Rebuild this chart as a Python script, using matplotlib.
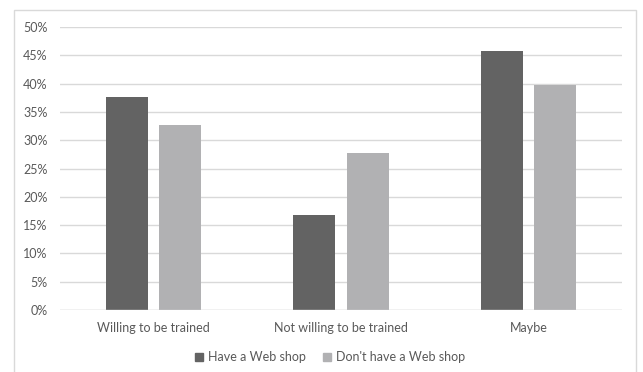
import matplotlib.pyplot as plt
import numpy as np
from matplotlib.patches import Rectangle
from matplotlib.ticker import PercentFormatter

categories = ["Willing to be trained", "Not willing to be trained", "Maybe"]
have_shop = [37.6, 16.7, 45.8]
no_shop = [32.7, 27.7, 39.7]
series_names = ["Have a Web shop", "Don't have a Web shop"]

dark = "#636363"
light = "#b1b1b3"
txt = "#595959"

plt.rcParams['font.family'] = ['Lato', 'DejaVu Sans']

fig = plt.figure(figsize=(6.43, 3.72), dpi=100)
W, H = 643, 372
ax = fig.add_axes([60/W, 1 - 310/H, 562/W, 283/H])

# chart border (bottom runs off the image)
fig.patches.append(Rectangle((14/W, -0.05), 622/W, 1.05 - 10/H, transform=fig.transFigure,
                             fill=False, edgecolor="#d9d9d9", linewidth=1))

x = np.arange(len(categories))
w = 0.224
off = 0.143
ax.bar(x - off, have_shop, w, color=dark, zorder=3)
ax.bar(x + off, no_shop, w, color=light, zorder=3)

ax.set_xlim(-0.5, 2.5)
ax.set_ylim(0, 50)
ax.set_yticks(np.arange(0, 51, 5))
ax.yaxis.set_major_formatter(PercentFormatter(decimals=0))
ax.set_xticks(x)
ax.set_xticklabels(categories)
ax.grid(axis='y', color="#d9d9d9", linewidth=1, zorder=0)
for s in ax.spines.values():
    s.set_visible(False)
ax.axhline(0, color="#d9d9d9", linewidth=1, zorder=4)
ax.tick_params(length=0, labelsize=9, colors=txt)
ax.tick_params(axis='y', pad=9)
ax.tick_params(axis='x', pad=9)

handles = [Rectangle((0, 0), 1, 1, color=dark), Rectangle((0, 0), 1, 1, color=light)]
fig.legend(handles, series_names, loc='center', bbox_to_anchor=(330/W, 1 - 357/H), ncol=2,
           frameon=False, fontsize=9, labelcolor=txt, handlelength=0.6, handleheight=0.6,
           handletextpad=0.4, columnspacing=1.4)

fig.savefig("out.png", dpi=100)
